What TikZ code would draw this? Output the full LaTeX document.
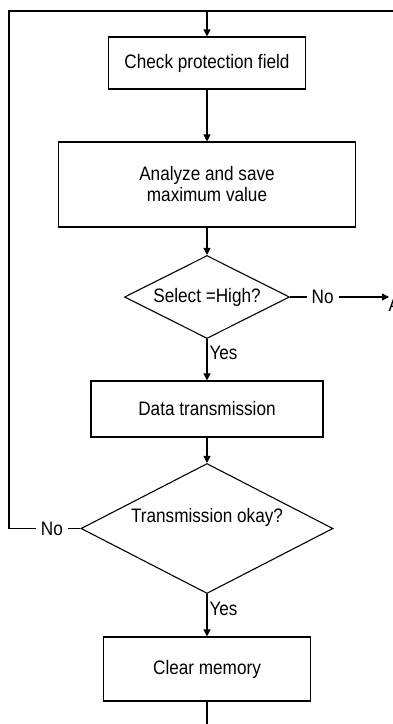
\documentclass[tikz,border=0pt]{standalone}
\usepackage{fontspec}
\setmainfont{Liberation Sans}[FakeStretch=0.88]
\usetikzlibrary{arrows.meta,shapes.geometric}
\begin{document}
\begin{tikzpicture}[x=1pt,y=-1pt,
  txt/.style={font=\fontsize{19.5}{21}\selectfont},
  box/.style={draw, line width=1.1pt, inner sep=0pt, align=center, txt},
  dia/.style={draw, diamond, line width=1.1pt, inner sep=0pt, txt},
  line/.style={line width=1.1pt},
  arr/.style={line width=1.1pt, -{Triangle[length=7pt,width=7pt]}},
  lbl/.style={txt, fill=white, inner xsep=5pt, inner ysep=1pt},
  yes/.style={txt, anchor=west, inner sep=2pt}]
\useasboundingbox (0,0) rectangle (392,724);
\fill[white] (0,0) rectangle (392,724);
% nodes
\node[box, minimum width=197pt, minimum height=52pt] (b1) at (207,63) {Check protection field};
\node[box, minimum width=297pt, minimum height=85pt] (b2) at (207,184.5) {Analyze and save\\maximum value};
\node[dia, aspect=1.99, minimum width=165pt, minimum height=83pt] (d1) at (207,297) {Select =High?};
\node[box, minimum width=232pt, minimum height=56pt] (b3) at (207,409) {Data transmission};
\node[dia, aspect=1.94, minimum width=252pt, minimum height=130pt] (d2) at (207,528.5) {};
\node[txt] (d2t) at (207,517) {Transmission okay?};
\node[box, minimum width=207pt, minimum height=64pt] (b4) at (207,669) {Clear memory};
\node[txt, anchor=base west, inner sep=0pt] (A) at (388.5,311) {A};
% coordinates
\coordinate (tr) at (396,11);
\coordinate (tl) at (9,11);
\coordinate (nl) at (9,528.5);
\coordinate (ae) at (389,297);
\coordinate (bot) at (207,730);
% connectors
\draw[line] (tr) -- (tl) -- (nl) -- node[lbl, pos=0.6] (no2) {No} (d2.west);
\draw[arr] (b1.north |- tl) -- (b1.north);
\draw[arr] (b1.south) -- (b2.north);
\draw[arr] (b2.south) -- (d1.north);
\draw[arr] (d1.east) -- node[lbl, pos=0.33] (no1) {No} (ae);
\draw[arr] (d1.south) -- node[yes, pos=0.33] (yes1) {Yes} (b3.north);
\draw[arr] (b3.south) -- (d2.north);
\draw[arr] (d2.south) -- node[yes, pos=0.34] (yes2) {Yes} (b4.north);
\draw[line] (b4.south) -- (bot);
\end{tikzpicture}
\end{document}
